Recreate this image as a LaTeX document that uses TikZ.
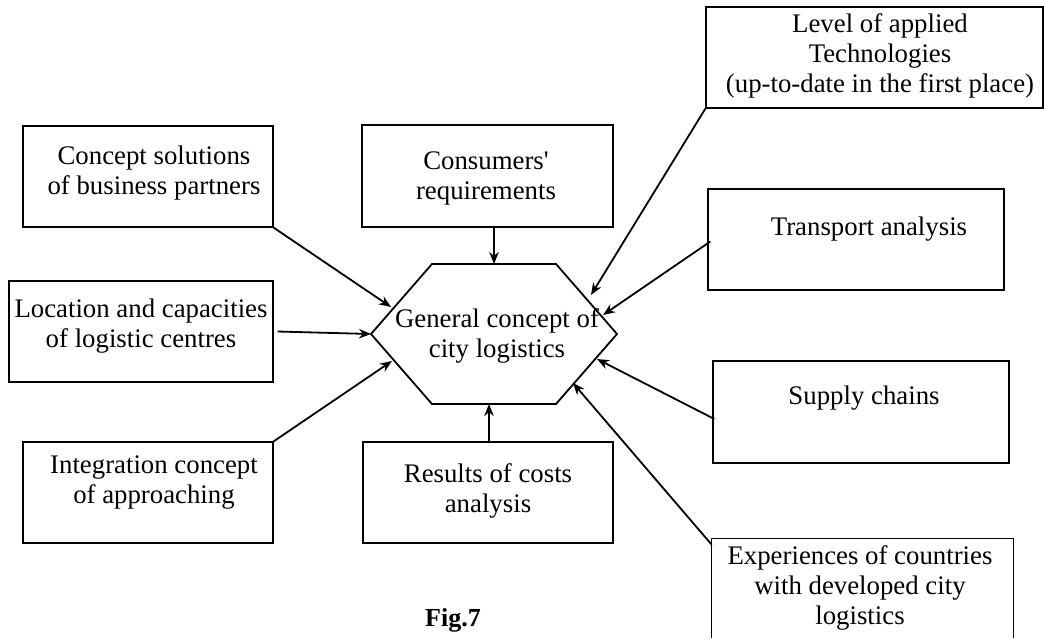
\documentclass[tikz,border=0pt]{standalone}
\usepackage{fontspec}
\setmainfont{Liberation Serif}[Ligatures=TeXOff]
\usetikzlibrary{arrows.meta}
\begin{document}
\begin{tikzpicture}[x=1pt,y=-1pt,
  box/.style={draw, line width=1.3pt, inner sep=0pt, rectangle},
  txt/.style={align=center, font=\fontsize{26.8}{30}\selectfont, inner sep=0pt},
  conn/.style={line width=1.8pt, -{Stealth[length=12pt,width=9.5pt]}},
  hexline/.style={line width=1.8pt, line join=miter}]
\useasboundingbox (0,0) rectangle (1044,638);

% boxes
\node[box, minimum width=250pt, minimum height=101pt] (cs)  at (148,176.5) {};
\node[box, minimum width=264pt, minimum height=101pt] (loc) at (141,331.5) {};
\node[box, minimum width=250pt, minimum height=101pt] (int) at (148,492.5) {};
\node[box, minimum width=250pt, minimum height=101pt] (res) at (488,492.5) {};
\node[box, minimum width=251pt, minimum height=102pt] (con) at (487.5,176) {};
\node[box, minimum width=337pt, minimum height=101pt] (lev) at (874.5,57.5) {};
\node[box, minimum width=296pt, minimum height=101pt] (tra) at (856,239.5) {};
\node[box, minimum width=296pt, minimum height=102pt] (sup) at (861,412) {};
\node[minimum width=301pt, minimum height=99pt, inner sep=0pt] (exp) at (862.5,588.5) {};
\draw[line width=1.3pt] (exp.south west) -- (exp.north west) -- (exp.north east) -- (exp.south east);

% texts
\node[txt] (tcs)  at (154,173) {Concept solutions\\of business partners};
\node[txt] (tloc) at (141,326) {Location and capacities\\of logistic centres};
\node[txt] (tint) at (154,483) {Integration concept\\of approaching};
\node[txt] (tres) at (488,491) {Results of costs\\analysis};
\node[txt] (tcon) at (486,178) {Consumers'\\requirements};
\node[txt] (tlev) at (880,56) {Level of applied\\Technologies\\(up-to-date in the first place)};
\node[txt] (ttra) at (869,229) {Transport analysis};
\node[txt] (tsup) at (864,398) {Supply chains};
\node[txt] (texp) at (860,588) {Experiences of countries\\with developed city\\logistics};

% hexagon
\coordinate (hl)  at (371,334);
\coordinate (htl) at (432,264);
\coordinate (htr) at (556,264);
\coordinate (hr)  at (617,334);
\coordinate (hbr) at (556,404);
\coordinate (hbl) at (432,404);
\draw[hexline] (hl) -- (htl) -- (htr) -- (hr) -- (hbr) -- (hbl) -- cycle;
\node[txt] (hex) at (497,336) {General concept of\\city logistics};

% arrow targets on the hexagon
\coordinate (pcs)  at (391,307);
\coordinate (ploc) at (371,334);
\coordinate (pint) at (392,361);
\coordinate (pcon) at (494,264);
\coordinate (pres) at (489,404);
\coordinate (plev) at (591,295);
\coordinate (ptra) at (603,315);
\coordinate (psup) at (597,359);
\coordinate (pexp) at (573,383);

% connectors
\draw[conn] (cs.south east) -- (pcs);
\draw[conn] ([xshift=4pt]loc.east) -- (ploc);
\draw[conn] (int.north east) -- (pint);
\draw[conn] (pcon |- con.south) -- (pcon);
\draw[conn] (pres |- res.north) -- (pres);
\draw[conn] (lev.south west) -- (plev);
\draw[conn] ([xshift=3pt,yshift=-2pt]tra.west) -- (ptra);
\draw[conn] ([xshift=2pt,yshift=-7pt]sup.west) -- (psup);
\draw[conn] ([yshift=-6pt]exp.north west) -- (pexp);

% caption
\node[font=\fontsize{26}{30}\selectfont\bfseries, inner sep=0pt] (fig) at (453,620) {Fig.7};
\end{tikzpicture}
\end{document}
